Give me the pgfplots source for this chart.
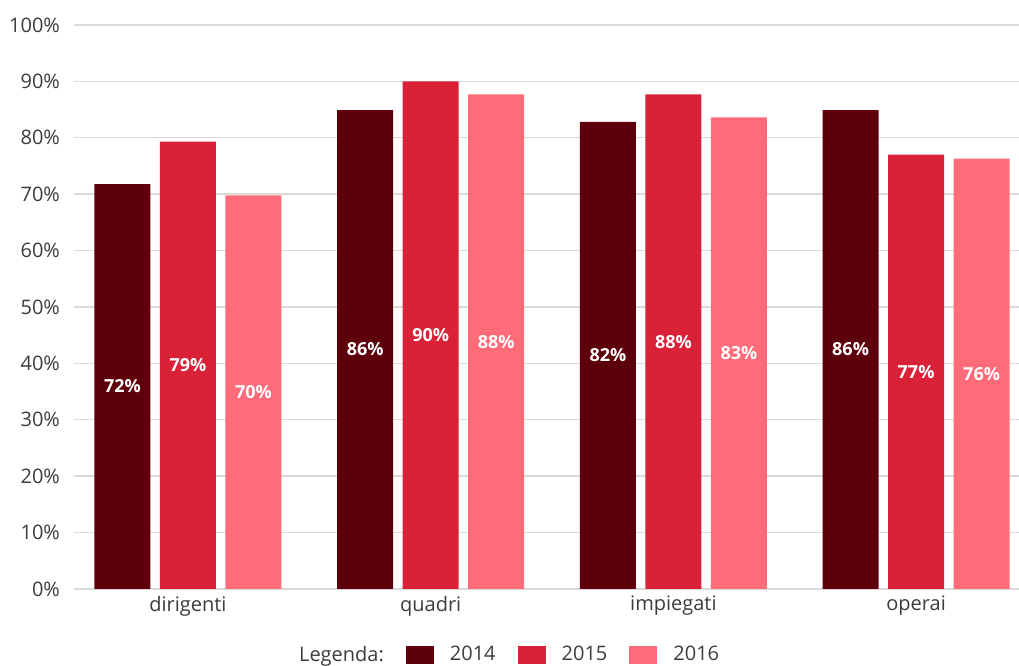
\documentclass[border=0pt]{standalone}
\usepackage{fontspec}
\setmainfont{Open Sans}
\usepackage{pgfplots}
\pgfplotsset{compat=1.18}
\definecolor{cA}{HTML}{5E000B}
\definecolor{cB}{HTML}{D92237}
\definecolor{cC}{HTML}{FF6B79}
\definecolor{gridc}{HTML}{DADADA}
\definecolor{tickc}{HTML}{3C3C3C}
\begin{document}
\begin{tikzpicture}
\begin{axis}[
  x=121.35pt, y=2.82pt,
  xmin=-0.4697, xmax=3.424,
  ymin=0, ymax=100,
  scale only axis,
  axis line style={draw=none},
  major tick length=0pt,
  ymajorgrids,
  grid style={draw=gridc, line width=0.7pt},
  xtick={0,1,2,3},
  xticklabels={dirigenti,quadri,impiegati,operai},
  ytick={0,10,...,100},
  yticklabel={\pgfmathprintnumber{\tick}\%},
  /pgf/number format/assume math mode=true,
  tick label style={font=\fontsize{10}{12}\selectfont, text=tickc},
  yticklabel style={xshift=-3.5pt},
  clip=false,
  legend columns=-1,
  legend style={draw=none, fill=none, at={(rel axis cs:0.452,-0.117)}, anchor=center,
    font=\fontsize{10}{12}\selectfont, text=tickc,
    nodes={inner sep=0pt},
    /tikz/every even column/.append style={column sep=11pt},
    /tikz/every odd column/.append style={column sep=8pt}},
  legend image code/.code={\fill[#1] (0pt,-4.5pt) rectangle (14pt,4.5pt);},
  nodes near coords={\pgfmathprintnumber{\pgfplotspointmeta}\%},
  point meta=explicit,
  visualization depends on={rawy \as \rawy},
  every node near coord/.append style={anchor=center, yshift=-1.41pt*\rawy,
     font=\fontsize{9}{11}\selectfont\bfseries, text=white},
]
\addlegendimage{empty legend}
\addlegendentry{Legenda:}
\addplot[ybar, bar width=28pt, bar shift=-32.75pt, fill=cA, draw=none,
  every node near coord/.append style={xshift=-32.75pt}]
  coordinates {(0,71.8) [72] (1,84.9) [86] (2,82.8) [82] (3,84.9) [86]};
\addlegendentry{2014}
\addplot[ybar, bar width=28pt, bar shift=0pt, fill=cB, draw=none]
  coordinates {(0,79.3) [79] (1,90.0) [90] (2,87.7) [88] (3,77.0) [77]};
\addlegendentry{2015}
\addplot[ybar, bar width=28pt, bar shift=32.75pt, fill=cC, draw=none,
  every node near coord/.append style={xshift=32.75pt}]
  coordinates {(0,69.8) [70] (1,87.7) [88] (2,83.6) [83] (3,76.3) [76]};
\addlegendentry{2016}
\coordinate (sw) at (rel axis cs:-0.0783,-0.1365);
\coordinate (ne) at (rel axis cs:1,1.0443);
\end{axis}
\pgfresetboundingbox
\useasboundingbox (sw) rectangle (ne);
\end{tikzpicture}
\end{document}
